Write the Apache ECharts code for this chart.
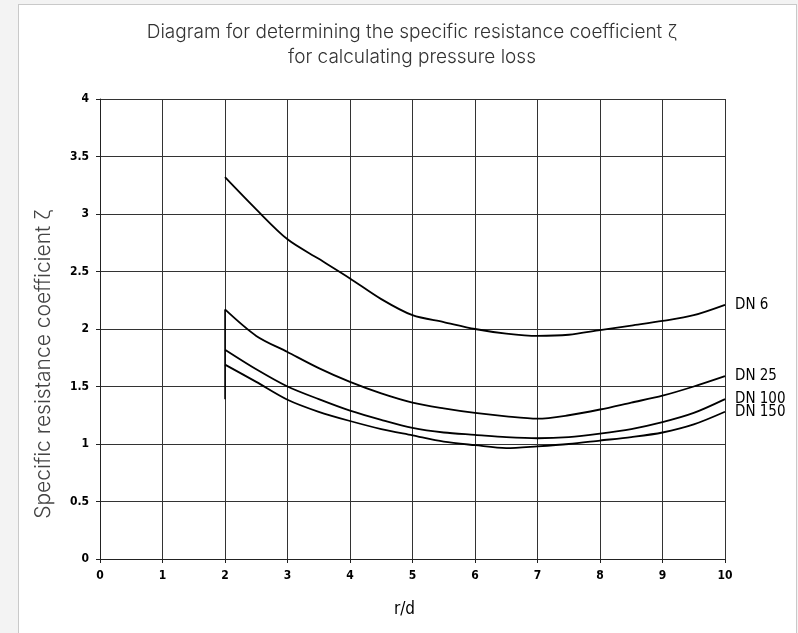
<!DOCTYPE html>
<html>
<head>
<meta charset="utf-8">
<script src="https://cdn.jsdelivr.net/npm/echarts@6/dist/echarts.min.js"></script>
<style>
  html, body { margin:0; padding:0; background:#f3f3f3; }
  #panel { position:absolute; left:18px; top:4px; width:777px; height:640px; background:#fff; border:1px solid #c9c9c9; }
  #chart { position:absolute; left:0; top:0; width:798px; height:633px; }
</style>
</head>
<body>
<div id="panel"></div>
<div id="chart"></div>
<script>
const titleLines = ['Diagram for determining the specific resistance coefficient ζ', 'for calculating pressure loss'];
const yAxisTitle = 'Specific resistance coefficient ζ';
const xAxisTitle = 'r/d';

const xValues = [2, 2.5, 3, 3.5, 4, 4.5, 5, 5.5, 6, 6.5, 7, 7.5, 8, 8.5, 9, 9.5, 10];
const dn6   = [3.32, 3.04, 2.78, 2.61, 2.44, 2.26, 2.12, 2.06, 2.00, 1.96, 1.94, 1.95, 1.99, 2.03, 2.07, 2.12, 2.21];
const dn25  = [2.17, 1.94, 1.80, 1.66, 1.54, 1.44, 1.36, 1.31, 1.27, 1.24, 1.22, 1.25, 1.30, 1.36, 1.42, 1.50, 1.59];
const dn100 = [1.82, 1.65, 1.50, 1.39, 1.29, 1.21, 1.14, 1.10, 1.08, 1.06, 1.05, 1.06, 1.09, 1.13, 1.19, 1.27, 1.39];
const dn150 = [1.69, 1.54, 1.385, 1.28, 1.20, 1.13, 1.075, 1.02, 0.99, 0.965, 0.98, 1.00, 1.03, 1.06, 1.10, 1.17, 1.28];
const seriesNames = ['DN 6', 'DN 25', 'DN 100', 'DN 150'];
const connectorX = [2, 2];
const connectorY = [2.17, 1.39];

const allSeries = [dn6, dn25, dn100, dn150];
const techFont = "'DejaVu Sans Condensed', 'DejaVu Sans', sans-serif";

const chart = echarts.init(document.getElementById('chart'), null, { renderer: 'canvas' });

const lineSeries = allSeries.map((vals, i) => ({
  name: seriesNames[i],
  type: 'line',
  data: xValues.map((x, j) => [x, vals[j]]),
  smooth: 0.3,
  symbol: 'none',
  lineStyle: { color: '#000', width: 1.8 },
  endLabel: {
    show: true,
    formatter: '{a}',
    distance: 10,
    color: '#000',
    fontFamily: techFont,
    fontSize: 15
  },
  z: 3
}));

lineSeries.push({
  name: 'connector',
  type: 'line',
  data: connectorX.map((x, j) => [x, connectorY[j]]),
  symbol: 'none',
  lineStyle: { color: '#000', width: 1.5 },
  z: 3
});

chart.setOption({
  animation: false,
  backgroundColor: 'transparent',
  title: {
    text: titleLines.join('\n'),
    left: 407,
    top: 15,
    textAlign: 'center',
    textStyle: { fontFamily: 'Inter', fontWeight: 300, fontSize: 19, color: '#333', lineHeight: 25 }
  },
  graphic: [{
    type: 'text',
    x: 44,
    y: 364,
    rotation: Math.PI / 2,
    style: {
      text: yAxisTitle,
      textAlign: 'center',
      textVerticalAlign: 'middle',
      fontFamily: 'Inter',
      fontWeight: 300,
      fontSize: 21,
      fill: '#444'
    }
  }],
  grid: { left: 100, right: 73, top: 99, bottom: 74, containLabel: false },
  xAxis: {
    type: 'value',
    min: 0, max: 10, interval: 1,
    name: xAxisTitle,
    nameLocation: 'middle',
    nameGap: 42,
    nameTextStyle: { fontFamily: techFont, fontSize: 17, color: '#000', padding: [0, 16, 0, 0] },
    axisLine: { lineStyle: { color: '#222', width: 1 } },
    axisTick: { show: true, length: 4, lineStyle: { color: '#222' } },
    axisLabel: { color: '#000', fontFamily: techFont, fontWeight: 'bold', fontSize: 12, margin: 11 },
    splitLine: { show: true, lineStyle: { color: '#333', width: 1 } }
  },
  yAxis: {
    type: 'value',
    min: 0, max: 4, interval: 0.5,
    axisLine: { show: true, lineStyle: { color: '#222', width: 1 } },
    axisTick: { show: true, length: 4, lineStyle: { color: '#222' } },
    axisLabel: { color: '#000', fontFamily: techFont, fontWeight: 'bold', fontSize: 12, margin: 11 },
    splitLine: { show: true, lineStyle: { color: '#333', width: 1 } }
  },
  series: lineSeries
});
</script>
</body>
</html>
